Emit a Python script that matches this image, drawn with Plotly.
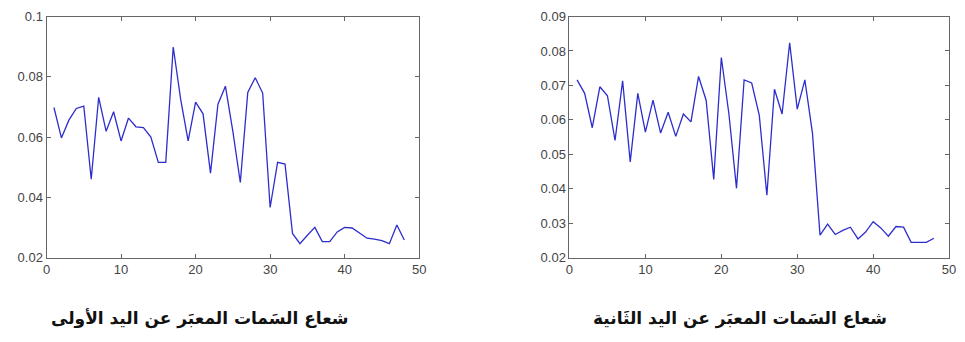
import plotly.graph_objects as go

x_vals = list(range(1, 49))

hand1 = [0.0698, 0.0597, 0.0656, 0.0695, 0.0703, 0.0460, 0.0732, 0.0619, 0.0684, 0.0587,
         0.0663, 0.0634, 0.0631, 0.0600, 0.0516, 0.0516, 0.0899, 0.0725, 0.0587, 0.0716,
         0.0677, 0.0480, 0.0709, 0.0769, 0.0619, 0.0449, 0.0748, 0.0797, 0.0746, 0.0366,
         0.0516, 0.0510, 0.0280, 0.0246, 0.0274, 0.0300, 0.0253, 0.0253, 0.0285, 0.0300,
         0.0298, 0.0280, 0.0264, 0.0261, 0.0256, 0.0246, 0.0308, 0.0258]

hand2 = [0.0716, 0.0677, 0.0577, 0.0696, 0.0670, 0.0540, 0.0713, 0.0478, 0.0677, 0.0564,
         0.0657, 0.0562, 0.0622, 0.0552, 0.0617, 0.0594, 0.0726, 0.0657, 0.0427, 0.0781,
         0.0617, 0.0401, 0.0716, 0.0707, 0.0613, 0.0381, 0.0689, 0.0617, 0.0824, 0.0631,
         0.0716, 0.0562, 0.0265, 0.0297, 0.0267, 0.0279, 0.0288, 0.0254, 0.0274, 0.0304,
         0.0286, 0.0262, 0.0290, 0.0288, 0.0244, 0.0244, 0.0244, 0.0256]

x_ticks = [0, 10, 20, 30, 40, 50]
y1_ticks = [0.02, 0.04, 0.06, 0.08, 0.1]
y1_labels = ["0.02", "0.04", "0.06", "0.08", "0.1"]
y2_ticks = [0.02, 0.03, 0.04, 0.05, 0.06, 0.07, 0.08, 0.09]
y2_labels = ["0.02", "0.03", "0.04", "0.05", "0.06", "0.07", "0.08", "0.09"]

title1 = "شعاع السَمات المعبَر عن اليد الأولى"
title2 = "شعاع السَمات المعبَر عن اليد الثَانية"

W, H = 965, 342
line_color = "rgb(45,45,205)"
axis_color = "#666666"
tick_font = dict(family="Liberation Sans, Arial, sans-serif", size=13, color="#444444")

fig = go.Figure()
fig.add_trace(go.Scatter(x=x_vals, y=hand1, mode="lines", line=dict(color=line_color, width=1.3),
                         xaxis="x", yaxis="y", showlegend=False))
fig.add_trace(go.Scatter(x=x_vals, y=hand2, mode="lines", line=dict(color=line_color, width=1.3),
                         xaxis="x2", yaxis="y2", showlegend=False))

ydom = [(H - 262) / H, (H - 10) / H]
common_axis = dict(showgrid=False, zeroline=False, showline=True, linecolor=axis_color, linewidth=1,
                   mirror="ticks", ticks="inside", ticklen=4, tickcolor=axis_color,
                   tickfont=tick_font)

fig.update_layout(
    width=W, height=H,
    margin=dict(l=0, r=0, t=0, b=0),
    paper_bgcolor="white", plot_bgcolor="white",
    xaxis=dict(domain=[43 / W, 420 / W], range=[0, 50], tickvals=x_ticks, anchor="y", **common_axis),
    yaxis=dict(domain=ydom, range=[0.02, 0.1], tickvals=y1_ticks, ticktext=y1_labels, anchor="x", **common_axis),
    xaxis2=dict(domain=[572 / W, 956 / W], range=[0, 50], tickvals=x_ticks, anchor="y2", **common_axis),
    yaxis2=dict(domain=ydom, range=[0.02, 0.09], tickvals=y2_ticks, ticktext=y2_labels, anchor="x2", **common_axis),
    annotations=[
        dict(text="<b>" + title1 + "</b>", x=198 / W, y=(H - 326) / H, xref="paper", yref="paper",
             showarrow=False, xanchor="center", yanchor="middle",
             font=dict(family="DejaVu Sans", size=17, color="#111111")),
        dict(text="<b>" + title2 + "</b>", x=744 / W, y=(H - 326) / H, xref="paper", yref="paper",
             showarrow=False, xanchor="center", yanchor="middle",
             font=dict(family="DejaVu Sans", size=17, color="#111111")),
    ],
)

fig.write_html("out.html")
